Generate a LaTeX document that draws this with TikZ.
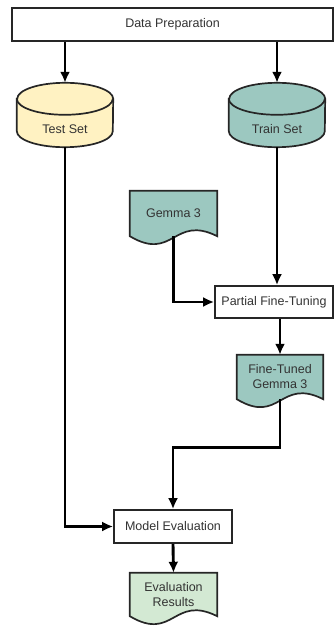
\documentclass[tikz,border=0pt]{standalone}
\usepackage{fontspec}
\setmainfont{Liberation Sans}
\usetikzlibrary{arrows.meta,backgrounds,calc}

\definecolor{tealfill}{HTML}{9CC8C0}
\definecolor{testfill}{HTML}{FFF2C2}
\definecolor{resfill}{HTML}{D3E9D3}

\tikzset{
  box/.style={draw=black!85, line width=1.7pt, fill=white, inner sep=0pt,
    font=\fontsize{12.5}{15}\selectfont, text=black!80},
  doc/.style={inner sep=0pt, align=center,
    font=\fontsize{12.5}{15}\selectfont, text=black!80},
  cyl/.style={doc, minimum width=96pt, minimum height=64pt,
    text height=37pt, text depth=0pt},
  outline/.style={draw=black!85, line width=1.7pt},
  flow/.style={->, line width=2.9pt, >={Latex[length=11pt,width=10pt]}},
}

% document symbol with wavy bottom, drawn from the node corners
\newcommand{\docwave}[2]{%
  \filldraw[outline, fill=#2] (#1.south west) -- (#1.north west) -- (#1.north east)
    -- (#1.south east) .. controls ($(#1.south)+(0,-22)$) and ($(#1.south)+(0,26)$)
    .. (#1.south west) -- cycle;}
% database cylinder
\newcommand{\dbcyl}[2]{%
  \filldraw[outline, fill=#2] ($(#1.north west)+(0,16)$) -- ($(#1.south west)+(0,-16)$)
    arc[start angle=180, end angle=360, x radius=48pt, y radius=16pt]
    -- ($(#1.north east)+(0,16)$)
    arc[start angle=0, end angle=180, x radius=48pt, y radius=16pt] -- cycle;
  \draw[outline] ($(#1.north west)+(0,16)$)
    arc[start angle=180, end angle=360, x radius=48pt, y radius=16pt];}

\begin{document}
\begin{tikzpicture}[x=1pt, y=-1pt]
\useasboundingbox (0,0) rectangle (334,628);

\node[box, minimum width=321pt, minimum height=33pt] (prep)at(172.5,24.5) {Data Preparation};
\node[cyl] (test)at(65,115) {Test Set};
\node[cyl] (train)at(277,115) {Train Set};
\node[doc, minimum width=87pt, minimum height=45pt] (gem)at(173.5,213.5) {Gemma 3};
\node[box, minimum width=118pt, minimum height=32pt] (pft)at(274,302) {Partial Fine-Tuning};
\node[doc, minimum width=86pt, minimum height=44pt] (ft)at(280,377) {Fine-Tuned\\Gemma 3};
\node[box, minimum width=118pt, minimum height=33pt] (me)at(173,526.5) {Model Evaluation};
\node[doc, minimum width=87pt, minimum height=43pt] (res)at(173.5,594.5) {Evaluation\\Results};

\begin{scope}[on background layer]
\dbcyl{test}{testfill}
\dbcyl{train}{tealfill}
\docwave{gem}{tealfill}
\docwave{ft}{tealfill}
\docwave{res}{resfill}
\end{scope}

\draw[flow] (test.north |- prep.south) -- (test.north);
\draw[flow] (train.north |- prep.south) -- (train.north);
\draw[flow] (train.south) -- (train.south |- pft.north);
\draw[flow] (gem.south) |- (pft.west);
\draw[flow] (ft.north |- pft.south) -- (ft.north);
\draw[flow] (ft.south) -- ++(0,48) -| (me.north);
\draw[flow] (test.south) |- (me.west);
\draw[flow] (me.south) -- (res.north);
\end{tikzpicture}
\end{document}
